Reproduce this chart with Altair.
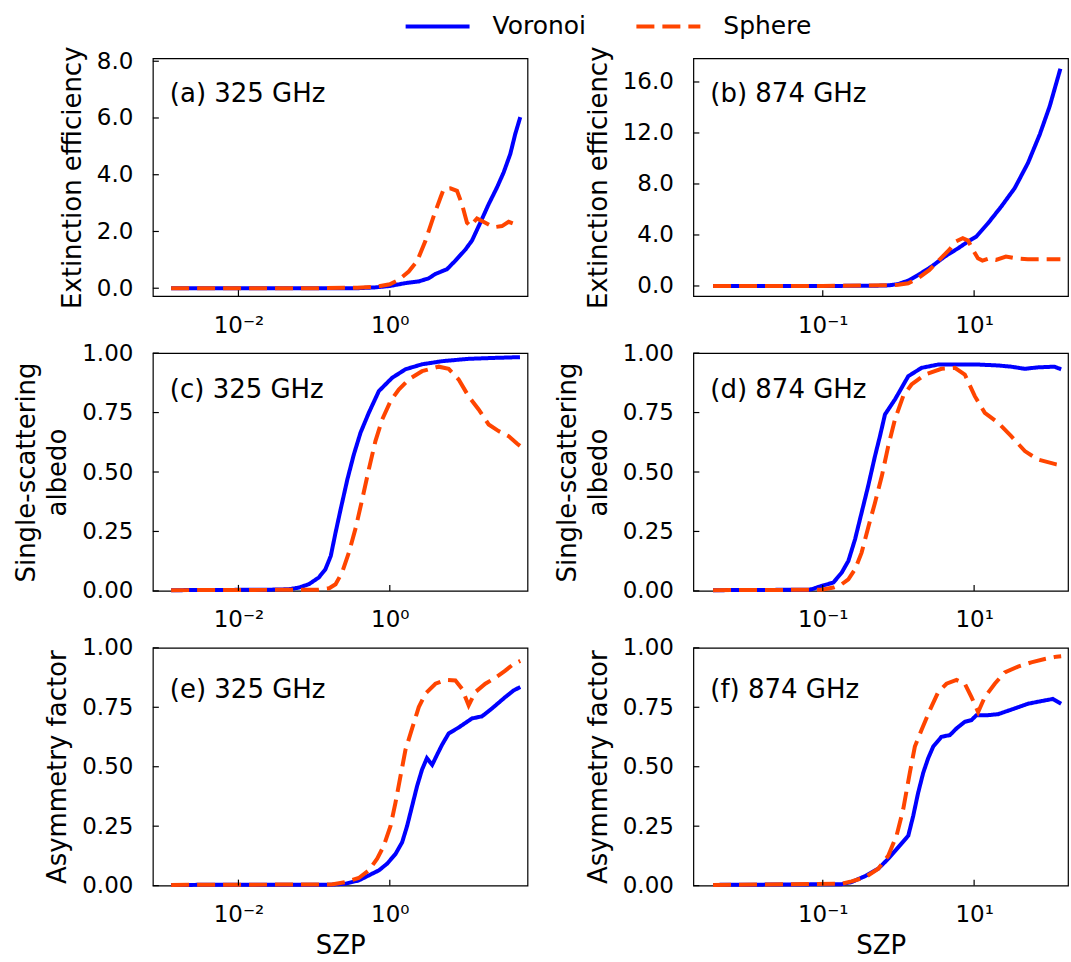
import altair as alt
import pandas as pd

FONT = "DejaVu Sans"
BLUE = "#0000ff"
ORANGE = "#ff4500"
SERIES = ["Voronoi", "Sphere"]

# ---------------- data ----------------
# (a) 325 GHz, extinction efficiency
a_vor_x = [0.00129, 0.1, 0.372, 0.646, 1.0, 1.611, 2.415, 3.273, 3.981, 5.702, 7.345, 9.954, 12.19, 15.70, 20.23, 26.06, 31.92, 39.08, 45.50, 52.97]
a_vor_y = [0.0, 0.0, 0.0, 0.03, 0.08, 0.18, 0.24, 0.35, 0.50, 0.67, 0.97, 1.36, 1.68, 2.31, 2.96, 3.55, 4.08, 4.73, 5.44, 6.03]
a_sph_x = [0.00129, 0.1, 0.372, 0.646, 1.0, 1.315, 1.778, 2.291, 2.951, 3.802, 4.667, 5.152, 6.310, 7.727, 8.995, 10.47, 11.59, 14.19, 18.28, 23.55, 30.34, 37.15, 45.50, 52.97]
a_sph_y = [0.0, 0.0, 0.02, 0.05, 0.14, 0.30, 0.59, 0.95, 1.66, 2.54, 3.19, 3.49, 3.52, 3.43, 2.96, 2.31, 2.19, 2.46, 2.31, 2.15, 2.19, 2.34, 2.25, 2.22]

# (b) 874 GHz, extinction efficiency
b_vor_x = [0.00355, 0.1, 0.5, 0.741, 0.993, 1.349, 1.820, 2.735, 4.102, 6.152, 8.337, 10.72, 15.31, 22.91, 34.43, 51.52, 73.62, 99.77, 138.0]
b_vor_y = [0.0, 0.0, 0.02, 0.05, 0.15, 0.42, 0.86, 1.52, 2.31, 2.96, 3.49, 3.88, 4.93, 6.24, 7.68, 9.65, 11.88, 14.1, 17.04]
b_sph_x = [0.00355, 0.1, 0.741, 0.993, 1.349, 1.820, 2.57, 3.467, 4.677, 5.754, 7.079, 8.318, 9.55, 11.22, 12.88, 15.85, 19.50, 26.30, 35.48, 51.29, 121.9, 138.0]
b_sph_y = [0.0, 0.0, 0.05, 0.10, 0.21, 0.60, 1.26, 2.05, 2.83, 3.49, 3.75, 3.56, 2.88, 2.17, 1.99, 2.17, 2.05, 2.31, 2.17, 2.10, 2.10, 2.10]

# (c) 325 GHz, single-scattering albedo
c_vor_x = [0.00129, 0.0251, 0.0468, 0.0631, 0.0851, 0.115, 0.141, 0.166, 0.192, 0.224, 0.275, 0.335, 0.410, 0.528, 0.716, 1.072, 1.611, 2.667, 4.898, 10.96, 24.55, 52.48]
c_vor_y = [0.003, 0.005, 0.007, 0.014, 0.028, 0.056, 0.091, 0.147, 0.245, 0.343, 0.469, 0.574, 0.665, 0.749, 0.84, 0.896, 0.932, 0.953, 0.966, 0.976, 0.98, 0.983]
c_sph_x = [0.00129, 0.115, 0.158, 0.192, 0.234, 0.288, 0.355, 0.432, 0.528, 0.646, 0.794, 1.023, 1.315, 1.778, 2.667, 4.426, 5.998, 8.128, 10.96, 14.93, 20.23, 27.42, 37.15, 47.86, 52.48]
c_sph_y = [0.003, 0.005, 0.011, 0.028, 0.077, 0.161, 0.266, 0.385, 0.511, 0.63, 0.721, 0.798, 0.847, 0.889, 0.924, 0.943, 0.934, 0.889, 0.819, 0.763, 0.70, 0.672, 0.651, 0.62, 0.61]

# (d) 874 GHz, single-scattering albedo
d_vor_x = [0.00355, 0.0646, 0.0714, 0.0966, 0.138, 0.178, 0.218, 0.267, 0.326, 0.398, 0.490, 0.570, 0.664, 0.899, 1.349, 2.018, 3.350, 6.152, 11.30, 20.75, 30.90, 46.77, 69.18, 114.8, 141.3]
d_vor_y = [0.003, 0.005, 0.007, 0.021, 0.035, 0.077, 0.126, 0.217, 0.329, 0.441, 0.567, 0.651, 0.742, 0.805, 0.903, 0.938, 0.952, 0.952, 0.952, 0.948, 0.943, 0.934, 0.94, 0.943, 0.932]
d_sph_x = [0.00355, 0.0966, 0.138, 0.178, 0.218, 0.267, 0.326, 0.398, 0.490, 0.603, 0.733, 0.899, 1.156, 1.489, 2.239, 3.707, 5.559, 7.534, 10.21, 13.84, 20.75, 30.90, 46.77, 69.18, 121.9, 141.3]
d_sph_y = [0.003, 0.005, 0.014, 0.028, 0.049, 0.091, 0.161, 0.266, 0.371, 0.483, 0.609, 0.721, 0.819, 0.868, 0.910, 0.934, 0.938, 0.910, 0.819, 0.749, 0.707, 0.651, 0.588, 0.553, 0.532, 0.528]

# (e) 325 GHz, asymmetry factor
e_vor_x = [0.00129, 0.170, 0.260, 0.389, 0.528, 0.716, 0.920, 1.189, 1.455, 1.694, 1.972, 2.291, 2.667, 3.090, 3.631, 4.207, 4.898, 5.998, 8.128, 12.19, 16.52, 22.39, 33.57, 43.25, 52.97]
e_vor_y = [0.003, 0.004, 0.008, 0.022, 0.043, 0.064, 0.092, 0.133, 0.182, 0.251, 0.335, 0.418, 0.488, 0.536, 0.508, 0.55, 0.592, 0.64, 0.665, 0.703, 0.712, 0.745, 0.793, 0.821, 0.835]
e_sph_x = [0.00129, 0.170, 0.260, 0.389, 0.528, 0.681, 0.834, 1.023, 1.189, 1.384, 1.611, 1.972, 2.415, 2.951, 4.009, 5.433, 7.362, 8.995, 11.02, 13.49, 18.28, 24.77, 33.57, 43.25, 52.97]
e_sph_y = [0.003, 0.005, 0.015, 0.032, 0.064, 0.113, 0.168, 0.251, 0.349, 0.46, 0.571, 0.661, 0.751, 0.807, 0.849, 0.865, 0.863, 0.828, 0.758, 0.814, 0.849, 0.874, 0.904, 0.932, 0.945]

# (f) 874 GHz, asymmetry factor
f_vor_x = [0.00355, 0.178, 0.240, 0.363, 0.541, 0.733, 0.993, 1.349, 1.567, 1.820, 2.123, 2.472, 2.884, 3.707, 4.786, 5.848, 7.534, 9.226, 10.72, 15.31, 20.75, 30.90, 51.52, 77.27, 109.6, 141.3]
f_vor_y = [0.003, 0.006, 0.015, 0.04, 0.071, 0.113, 0.161, 0.21, 0.293, 0.39, 0.474, 0.536, 0.585, 0.626, 0.633, 0.661, 0.689, 0.696, 0.717, 0.717, 0.721, 0.74, 0.765, 0.776, 0.785, 0.765]
f_sph_x = [0.00355, 0.178, 0.240, 0.363, 0.541, 0.733, 0.944, 1.156, 1.413, 1.648, 2.018, 2.600, 3.350, 4.315, 5.848, 7.534, 9.226, 11.30, 13.84, 18.75, 25.41, 38.02, 57.02, 85.51, 121.9, 141.3]
f_sph_y = [0.003, 0.008, 0.018, 0.035, 0.071, 0.126, 0.21, 0.321, 0.474, 0.585, 0.654, 0.738, 0.814, 0.849, 0.865, 0.849, 0.793, 0.73, 0.793, 0.849, 0.897, 0.921, 0.939, 0.953, 0.963, 0.965]

# axis settings
left_xdomain = [0.00074, 66.0]
right_xdomain = [0.00195, 174.0]
left_xticks = [0.01, 1.0]
right_xticks = [0.1, 10.0]
left_xlabels = "datum.value < 0.05 ? '10⁻²' : '10⁰'"
right_xlabels = "datum.value < 1 ? '10⁻¹' : '10¹'"
a_ydomain = [-0.28, 8.1]
b_ydomain = [-0.8, 17.85]
unit_ydomain = [0.0, 1.0]
a_yticks = [0, 2, 4, 6, 8]
b_yticks = [0, 4, 8, 12, 16]
unit_yticks = [0, 0.25, 0.5, 0.75, 1.0]

W = 375
H = 238

legend = alt.Legend(
    title=None, orient="none", direction="horizontal", legendX=251, legendY=-66,
    symbolType="stroke", symbolSize=4096, symbolStrokeWidth=4,
    labelFont=FONT, labelFontSize=25, labelColor="black", labelOffset=21,
    columnPadding=42,
)


def panel(vx, vy, sx, sy, xdom, xvals, xexpr, ydom, yvals, yfmt, ytitle, label, label_y, xtitle):
    df = pd.concat([
        pd.DataFrame({"SZP": vx, "value": vy, "series": "Voronoi"}),
        pd.DataFrame({"SZP": sx, "value": sy, "series": "Sphere"}),
    ])
    xscale = alt.Scale(type="log", domain=xdom, nice=False)
    yscale = alt.Scale(domain=ydom, nice=False, zero=False)
    xkw = dict(values=xvals, labelExpr=xexpr, labelPadding=18, titlePadding=6)
    xkw["title"] = xtitle if xtitle else None
    xaxis = alt.Axis(**xkw)
    yaxis = alt.Axis(values=yvals, format=yfmt, title=ytitle, labelPadding=20,
                     titlePadding=11, titleLineHeight=31)
    X = alt.X("SZP:Q", scale=xscale, axis=xaxis)
    Y = alt.Y("value:Q", scale=yscale, axis=yaxis)
    enc = dict(
        x=X, y=Y,
        color=alt.Color("series:N", scale=alt.Scale(domain=SERIES, range=[BLUE, ORANGE]), legend=legend),
        strokeDash=alt.StrokeDash("series:N", scale=alt.Scale(domain=SERIES, range=[[1, 0], [18, 8]]), legend=legend),
    )
    base = alt.Chart(df)
    vor = base.transform_filter(alt.datum.series == "Voronoi").mark_line(strokeWidth=4).encode(**enc)
    sph = base.transform_filter(alt.datum.series == "Sphere").mark_line(strokeWidth=4).encode(**enc)
    xt = alt.Chart(pd.DataFrame({"SZP": xvals})).mark_rule(color="black", strokeWidth=1.2).encode(
        x=X, y=alt.value(H), y2=alt.value(H - 6))
    yt = alt.Chart(pd.DataFrame({"value": yvals})).mark_rule(color="black", strokeWidth=1.2).encode(
        y=Y, x=alt.value(0), x2=alt.value(6))
    lab = alt.Chart(pd.DataFrame({"t": [label]})).mark_text(
        align="left", baseline="alphabetic", fontSize=26, font=FONT, color="black"
    ).encode(text="t:N", x=alt.value(17), y=alt.value(label_y))
    return alt.layer(vor, sph, xt, yt, lab).properties(width=W, height=H)


pa = panel(a_vor_x, a_vor_y, a_sph_x, a_sph_y, left_xdomain, left_xticks, left_xlabels,
           a_ydomain, a_yticks, ".1f", "Extinction efficiency", "(a) 325 GHz", 44, None)
pb = panel(b_vor_x, b_vor_y, b_sph_x, b_sph_y, right_xdomain, right_xticks, right_xlabels,
           b_ydomain, b_yticks, ".1f", "Extinction efficiency", "(b) 874 GHz", 44, None)
pc = panel(c_vor_x, c_vor_y, c_sph_x, c_sph_y, left_xdomain, left_xticks, left_xlabels,
           unit_ydomain, unit_yticks, ".2f", ["Single-scattering", "albedo"], "(c) 325 GHz", 45, None)
pd_ = panel(d_vor_x, d_vor_y, d_sph_x, d_sph_y, right_xdomain, right_xticks, right_xlabels,
            unit_ydomain, unit_yticks, ".2f", ["Single-scattering", "albedo"], "(d) 874 GHz", 45, None)
pe = panel(e_vor_x, e_vor_y, e_sph_x, e_sph_y, left_xdomain, left_xticks, left_xlabels,
           unit_ydomain, unit_yticks, ".2f", "Asymmetry factor", "(e) 325 GHz", 50, "SZP")
pf = panel(f_vor_x, f_vor_y, f_sph_x, f_sph_y, right_xdomain, right_xticks, right_xlabels,
           unit_ydomain, unit_yticks, ".2f", "Asymmetry factor", "(f) 874 GHz", 50, "SZP")

chart = alt.concat(
    pa, pb, pc, pd_, pe, pf, columns=2,
    spacing={"row": 57, "column": 166}, bounds="flush",
).properties(
    padding={"left": 13, "top": -8, "right": 1, "bottom": 2},
    background="white",
).configure_axis(
    labelFont=FONT, labelFontSize=23, labelColor="black",
    titleFont=FONT, titleFontSize=26, titleFontWeight="normal", titleColor="black",
    grid=False, domain=False, ticks=False,
).configure_view(stroke="black", strokeWidth=1.2)

chart.save("out.html", embed_options={"renderer": "svg", "actions": False})
